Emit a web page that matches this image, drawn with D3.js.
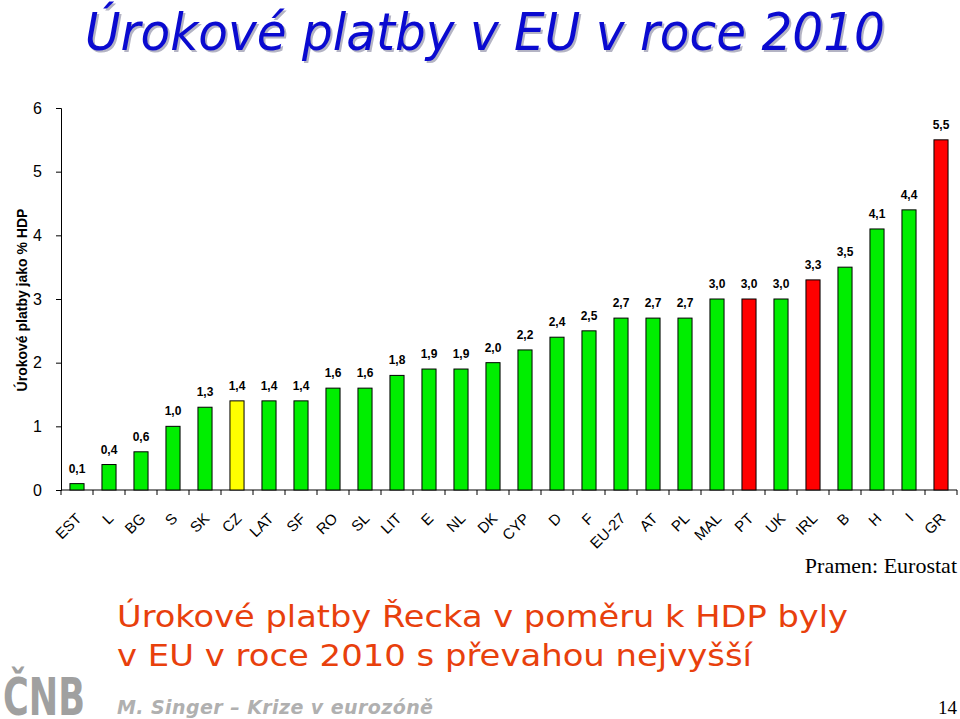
<!DOCTYPE html>
<html>
<head>
<meta charset="utf-8">
<script src="https://cdn.jsdelivr.net/npm/d3@7"></script>
<style>
  body { margin: 0; background: #fff; }
  svg { display: block; }
  .tick text { font-family: Arial, "Liberation Sans", sans-serif; }
</style>
</head>
<body>
<div id="chart"></div>
<script>
var svgWidth = 960;
var svgHeight = 719;

// data
var countries = ["EST", "L", "BG", "S", "SK", "CZ", "LAT", "SF", "RO", "SL", "LIT", "E", "NL", "DK",
  "CYP", "D", "F", "EU-27", "AT", "PL", "MAL", "PT", "UK", "IRL", "B", "H", "I", "GR"];
var payments = [0.1, 0.4, 0.6, 1.0, 1.3, 1.4, 1.4, 1.4, 1.6, 1.6, 1.8, 1.9, 1.9, 2.0,
  2.2, 2.4, 2.5, 2.7, 2.7, 2.7, 3.0, 3.0, 3.0, 3.3, 3.5, 4.1, 4.4, 5.5];
var redOnes = ["PT", "IRL", "GR"];
var yellowOnes = ["CZ"];
var yTicks = [0, 1, 2, 3, 4, 5, 6];

var margin = { top: 108, left: 61, right: 3, bottom: 229 };
var width = svgWidth - margin.left - margin.right;
var height = svgHeight - margin.top - margin.bottom;

var svg = d3.select("#chart")
  .append("svg")
  .attr("width", svgWidth)
  .attr("height", svgHeight);

// title with shadow
var title = "Úrokové platby v EU v roce 2010";
function addTitle(dx, dy, color) {
  svg.append("text")
    .attr("x", 85 + dx).attr("y", 50 + dy)
    .style("font-family", "'DejaVu Sans', Verdana, sans-serif")
    .style("font-style", "italic")
    .style("font-size", "51px")
    .attr("textLength", 800)
    .attr("lengthAdjust", "spacingAndGlyphs")
    .attr("fill", color)
    .text(title);
}
addTitle(2, 2, "#b4b4c4");
addTitle(0, 0, "#0a0ad0");

var chartGroup = svg.append("g")
  .attr("transform", `translate(${margin.left}, ${margin.top})`);

var xScale = d3.scaleBand()
  .domain(countries)
  .range([0, width])
  .paddingInner(0.56)
  .paddingOuter(0.28);

var yScale = d3.scaleLinear()
  .domain([0, 6])
  .range([height, 0]);

// y axis
var leftAxis = d3.axisLeft(yScale)
  .tickValues(yTicks)
  .tickFormat(d3.format("d"))
  .tickSize(5)
  .tickPadding(14);

var yAxis = chartGroup.append("g").call(leftAxis);
yAxis.select(".domain").attr("stroke", "#000");
yAxis.selectAll(".tick text").style("font-size", "16px").attr("fill", "#000");

// x axis: ticks at category boundaries
var step = xScale.step();
chartGroup.append("line")
  .attr("x1", 0).attr("x2", width)
  .attr("y1", height).attr("y2", height)
  .attr("stroke", "#000");

chartGroup.selectAll(".xtick")
  .data(d3.range(countries.length + 1))
  .enter()
  .append("line")
  .attr("x1", d => d * step)
  .attr("x2", d => d * step)
  .attr("y1", height)
  .attr("y2", height + 5)
  .attr("stroke", "#000");

chartGroup.selectAll(".xlabel")
  .data(countries)
  .enter()
  .append("text")
  .attr("transform", d => `translate(${xScale(d) + xScale.bandwidth() / 2 - 2}, ${height + 22}) rotate(-45)`)
  .attr("text-anchor", "end")
  .attr("dy", "0.7em")
  .style("font-family", "Arial, 'Liberation Sans', sans-serif")
  .style("font-size", "15px")
  .text(d => d);

// bars
chartGroup.selectAll("rect")
  .data(payments)
  .enter()
  .append("rect")
  .attr("x", (d, i) => xScale(countries[i]))
  .attr("y", d => yScale(d))
  .attr("width", xScale.bandwidth())
  .attr("height", d => height - yScale(d))
  .attr("fill", (d, i) => redOnes.includes(countries[i]) ? "#ff0000" :
    (yellowOnes.includes(countries[i]) ? "#ffff00" : "#00ee00"))
  .attr("stroke", "#000")
  .attr("stroke-width", 1);

// value labels
chartGroup.selectAll(".val")
  .data(payments)
  .enter()
  .append("text")
  .attr("x", (d, i) => xScale(countries[i]) + xScale.bandwidth() / 2)
  .attr("y", d => yScale(d) - 11)
  .attr("text-anchor", "middle")
  .style("font-family", "Arial, 'Liberation Sans', sans-serif")
  .style("font-weight", "bold")
  .style("font-size", "12px")
  .text(d => d3.format(".1f")(d).replace(".", ","));

// y axis title
svg.append("text")
  .attr("transform", "translate(27, 300) rotate(-90)")
  .attr("text-anchor", "middle")
  .style("font-family", "Arial, 'Liberation Sans', sans-serif")
  .style("font-weight", "bold")
  .style("font-size", "14px")
  .text("Úrokové platby jako % HDP");

// source
svg.append("text")
  .attr("x", 957).attr("y", 573)
  .attr("text-anchor", "end")
  .style("font-family", "'Liberation Serif', 'Times New Roman', serif")
  .style("font-size", "22px")
  .text("Pramen: Eurostat");

// red comment
var comment = ["Úrokové platby Řecka v poměru k HDP byly", "v EU v roce 2010 s převahou nejvyšší"];
svg.selectAll(".comment")
  .data(comment)
  .enter()
  .append("text")
  .attr("x", 117)
  .attr("y", (d, i) => 627 + i * 39)
  .style("font-family", "'DejaVu Sans', Verdana, sans-serif")
  .style("font-size", "31px")
  .attr("fill", "#e8400c")
  .attr("textLength", (d, i) => i === 0 ? 731 : 635)
  .attr("lengthAdjust", "spacingAndGlyphs")
  .text(d => d);

// footer
svg.append("text")
  .attr("x", 3).attr("y", 715)
  .style("font-family", "'Liberation Sans Narrow', 'DejaVu Sans Condensed', sans-serif")
  .style("font-weight", "bold")
  .style("font-size", "52px")
  .attr("textLength", 82)
  .attr("lengthAdjust", "spacingAndGlyphs")
  .attr("fill", "#a0a0a0")
  .text("ČNB");

svg.append("text")
  .attr("x", 117).attr("y", 714)
  .style("font-family", "'DejaVu Sans', Verdana, sans-serif")
  .style("font-style", "italic")
  .style("font-weight", "bold")
  .style("font-size", "19px")
  .attr("textLength", 316)
  .attr("fill", "#b0b0b0")
  .text("M. Singer – Krize v eurozóně");

svg.append("text")
  .attr("x", 957).attr("y", 714)
  .attr("text-anchor", "end")
  .style("font-family", "'Liberation Serif', 'Times New Roman', serif")
  .style("font-size", "19px")
  .text("14");
</script>
</body>
</html>
